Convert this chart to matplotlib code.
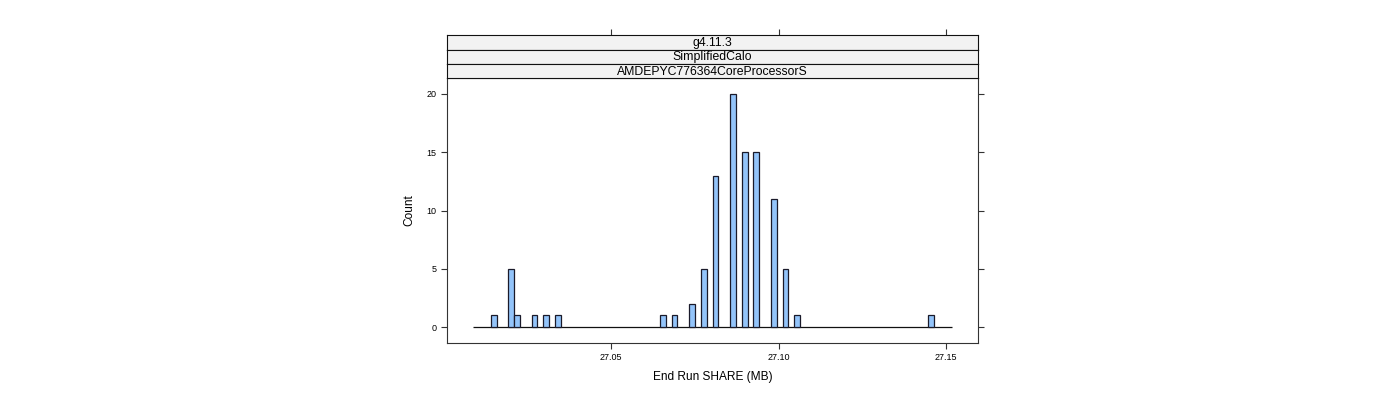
import matplotlib
matplotlib.use("Agg")
import matplotlib.pyplot as plt
import numpy as np

plt.rcParams['font.family'] = ['Liberation Sans', 'DejaVu Sans']

# ---- data ----
strip_labels = ["g4.11.3", "SimplifiedCalo", "AMDEPYC776364CoreProcessorS"]
break_start = 27.00881
break_end = 27.15175
n_bins = 82
counts = [0, 0, 0, 1, 0, 0, 5, 1, 0, 0,
          1, 0, 1, 0, 1, 0, 0, 0, 0, 0,
          0, 0, 0, 0, 0, 0, 0, 0, 0, 0,
          0, 0, 1, 0, 1, 0, 0, 2, 0, 5,
          0, 13, 0, 0, 20, 0, 15, 0, 15, 0,
          0, 11, 0, 5, 0, 1, 0, 0, 0, 0,
          0, 0, 0, 0, 0, 0, 0, 0, 0, 0,
          0, 0, 0, 0, 0, 0, 0, 0, 1, 0,
          0, 0]
x_ticks = [27.05, 27.10, 27.15]
x_ticklabels = ["27.05", "27.10", "27.15"]
y_ticks = [0, 5, 10, 15, 20]
x_label = "End Run SHARE (MB)"
y_label = "Count"

W, H = 1400, 400
fig = plt.figure(figsize=(W / 100, H / 100), dpi=100)

def fx(px):
    return px / W

def fy(py):
    return 1 - py / H

border = '#333333'
L, R, T, B = 447, 978, 78, 343
ax = fig.add_axes([fx(L), fy(B), fx(R - L), (B - T) / H])

edges = np.linspace(break_start, break_end, n_bins + 1)
width = edges[1] - edges[0]
cnt = np.array(counts)
nz = cnt > 0
ax.hlines(0, edges[0], edges[-1], color='#111111', linewidth=0.9, zorder=2)
ax.bar(edges[:-1][nz], cnt[nz], width=width, align='edge', color='#93C4FA',
       edgecolor='#1a1a2a', linewidth=0.9, zorder=3)

ax.set_xlim(27.00096, 27.1596)
ax.set_ylim(-1.37, 21.37)
ax.set_xticks(x_ticks)
ax.set_xticklabels(x_ticklabels)
ax.set_yticks(y_ticks)
ax.tick_params(axis='both', direction='out', length=4.5, width=0.8,
               color=border, labelsize=6.5, pad=3)
ax.tick_params(axis='y', right=True, labelright=False)
for s in ax.spines.values():
    s.set_color(border)
    s.set_linewidth(0.8)
ax.set_xlabel(x_label, fontsize=8.6, labelpad=6)
ax.set_ylabel(y_label, fontsize=8.6, labelpad=8)

# strips
strip_rows = [(35, 49.5), (49.5, 64), (64, 78)]
for i, (lab, (t, b)) in enumerate(zip(strip_labels, strip_rows)):
    sax = fig.add_axes([fx(L), fy(b), fx(R - L), (b - t) / H])
    sax.set_facecolor('#F2F2F2')
    sax.set_xlim(ax.get_xlim())
    sax.set_ylim(0, 1)
    sax.set_yticks([])
    for s in sax.spines.values():
        s.set_color('#111111')
        s.set_linewidth(0.8)
    if i == 0:
        sax.set_xticks(x_ticks)
        sax.tick_params(axis='x', top=True, bottom=False, labeltop=False,
                        labelbottom=False, direction='out', length=4.5,
                        width=0.8, color=border)
    else:
        sax.set_xticks([])
    sax.text(0.5, 0.45, lab, transform=sax.transAxes, ha='center',
             va='center', fontsize=8.8)

fig.savefig("out.png", dpi=100)
